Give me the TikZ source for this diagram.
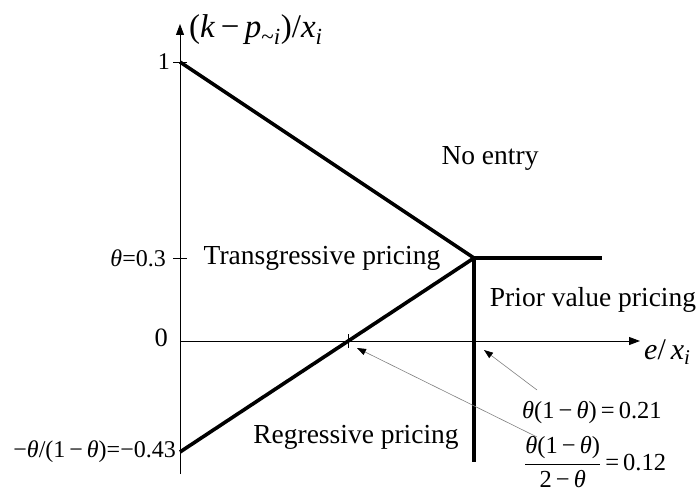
\documentclass[tikz,border=0pt]{standalone}
\usepackage{fontspec}
\setmainfont{Liberation Serif}
\usetikzlibrary{arrows.meta}
\newcommand{\vth}{\textit{θ}}
\newcommand{\mns}{\,−\,}
\tikzset{
  axisline/.style={line width=0.9pt, -{Triangle[length=11pt,width=8pt]}},
  bold/.style={line width=3.6pt},
  tickline/.style={line width=0.7pt},
  note/.style={draw=gray, line width=0.6pt, -{Triangle[length=9pt,width=6.5pt,black]}},
  lbl/.style={inner sep=0pt},
  ticklbl/.style={lbl,anchor=east,font=\fontsize{24}{28}\selectfont},
  annlbl/.style={lbl,anchor=west,font=\fontsize{24.5}{28}\selectfont},
}
\begin{document}
\begin{tikzpicture}[x=1pt,y=-1pt,font=\fontsize{27.5}{32}\selectfont]
\useasboundingbox (0,0) rectangle (700,500);
% key points
\coordinate (O) at (180,341);
\coordinate (ybot) at (180,474);
\coordinate (ytop) at (180,24);
\coordinate (xend) at (640,341);
\coordinate (A) at (180,62);
\coordinate (B) at (180,452);
\coordinate (K) at (474,258);
\coordinate (H) at (600,258);
\coordinate (V) at (474,460);
\coordinate (X1) at (348,341);
\coordinate (X2) at (474,341);
% axes
\draw[axisline] (ybot) -- (ytop);
\draw[axisline] (O) -- (xend);
% ticks
\draw[tickline] (173,62) -- (187,62);
\draw[tickline] (173,258) -- (187,258);
\draw[tickline] (X1) ++(0,-7) -- ++(0,14);
% bold lines
\draw[bold] (A) -- (K);
\draw[bold] (B) -- (K);
\draw[bold,line cap=rect] (H) -- (K) -- (V);
% axis labels
\node[lbl,anchor=west,font=\fontsize{33}{38}\selectfont] (ylab) at (189,30) {(\textit{k}\mns\textit{p}\textsubscript{\textasciitilde\textit{i}})/\textit{x}\textsubscript{\textit{i}}};
\node[lbl,anchor=west,font=\fontsize{30}{34}\selectfont] (xlab) at (644,352) {\textit{e}/\,\textit{x}\textsubscript{\textit{i}}};
% tick labels
\node[ticklbl] (t1) at (170,62) {1};
\node[ticklbl] (t03) at (166,258) {\vth=0.3};
\node[ticklbl,font=\fontsize{26.5}{30}\selectfont] (t0) at (168,338) {0};
\node[ticklbl] (tneg) at (176,452) {−\vth/(1\mns\vth)=−0.43};
% region labels
\node[lbl] (noentry) at (490,158) {No entry};
\node[lbl] (trans) at (322,258) {Transgressive pricing};
\node[lbl] (prior) at (593,300) {Prior value pricing};
\node[lbl] (regr) at (356,437) {Regressive pricing};
% annotations
\node[annlbl] (a21) at (522,413) {\vth(1\mns\vth)\,=\,0.21};
\node[annlbl] (a12) at (524,462) {$\displaystyle\frac{\mbox{\vth(1\mns\vth)}}{\mbox{2\mns\vth}}$\,=\,0.12};
\coordinate (s21) at (537,390);
\coordinate (s12) at (537,437);
\draw[note] (s21) -- (484,350);
\draw[note] (s12) -- (357,348);
\end{tikzpicture}
\end{document}
